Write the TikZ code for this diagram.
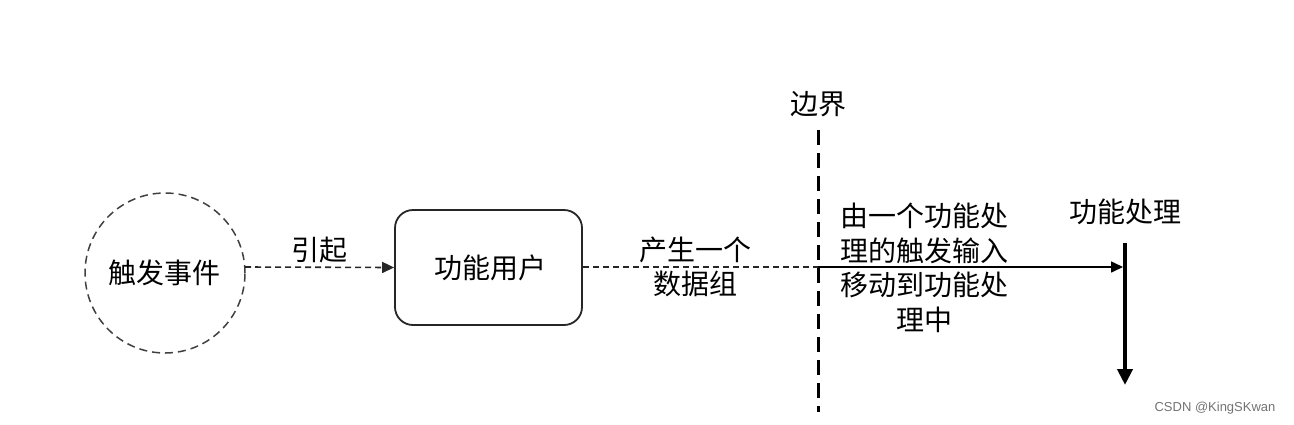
\documentclass[tikz,border=0pt]{standalone}
\usepackage{fontspec}
\setmainfont{Noto Sans CJK SC}
\newfontfamily\wmfont{Liberation Sans}
\usetikzlibrary{arrows.meta}
\begin{document}
\begin{tikzpicture}[x=1pt,y=-1pt,
  lbl/.style={font=\fontsize{28}{34.5}\selectfont, align=center, inner sep=0pt},
  dashconn/.style={draw=black!85, line width=1.6pt, dash pattern=on 6pt off 4pt, -{Triangle[length=12pt,width=11pt]}},
  solidconn/.style={draw=black, line width=1.6pt, -{Triangle[length=12pt,width=11pt]}},
  bound/.style={draw=black, line width=3pt, dash pattern=on 15pt off 8pt},
  proc/.style={draw=black, line width=4pt, -{Triangle[length=16pt,width=15pt]}}]
\useasboundingbox (0,0) rectangle (1294,424);
\node[circle, draw=black!75, line width=1.5pt, dash pattern=on 8pt off 5pt, minimum size=160pt, inner sep=0pt] (ev) at (165,273) {};
\node[lbl] (evt) at (164,273) {触发事件};
\node[draw=black!85, line width=1.8pt, rounded corners=18pt, minimum width=187pt, minimum height=115pt, inner sep=0pt] (user) at (488.5,267.5) {};
\node[lbl] (usert) at (490,268) {功能用户};
\coordinate (c1) at (245,267);
\coordinate (bx) at (818,267);
\coordinate (btop) at (818,130);
\coordinate (bbot) at (818,412);
\coordinate (ptop) at (1125,243);
\coordinate (pbot) at (1125,385);
\coordinate (pin) at (1123,267);
\draw[dashconn] (c1) -- (user.west) node[lbl, midway, above=3pt] (l1) {引起};
\draw[draw=black!85, line width=1.6pt, dash pattern=on 6pt off 4pt] (user.east |- bx) -- (bx);
\node[lbl] (l2) at (695,267) {产生一个\\数据组};
\draw[bound] (btop) -- (bbot);
\node[lbl] (bl) at (818,104) {边界};
\draw[solidconn] (bx) -- (pin);
\node[lbl] (l3) at (924,268) {由一个功能处\\理的触发输入\\移动到功能处\\理中};
\draw[proc] (ptop) -- (pbot);
\node[lbl] (pl) at (1125,212) {功能处理};
\node[font=\wmfont\fontsize{13}{15}\selectfont, text=black!55, inner sep=0pt] (wm) at (1215,408) {CSDN @KingSKwan};
\end{tikzpicture}
\end{document}
